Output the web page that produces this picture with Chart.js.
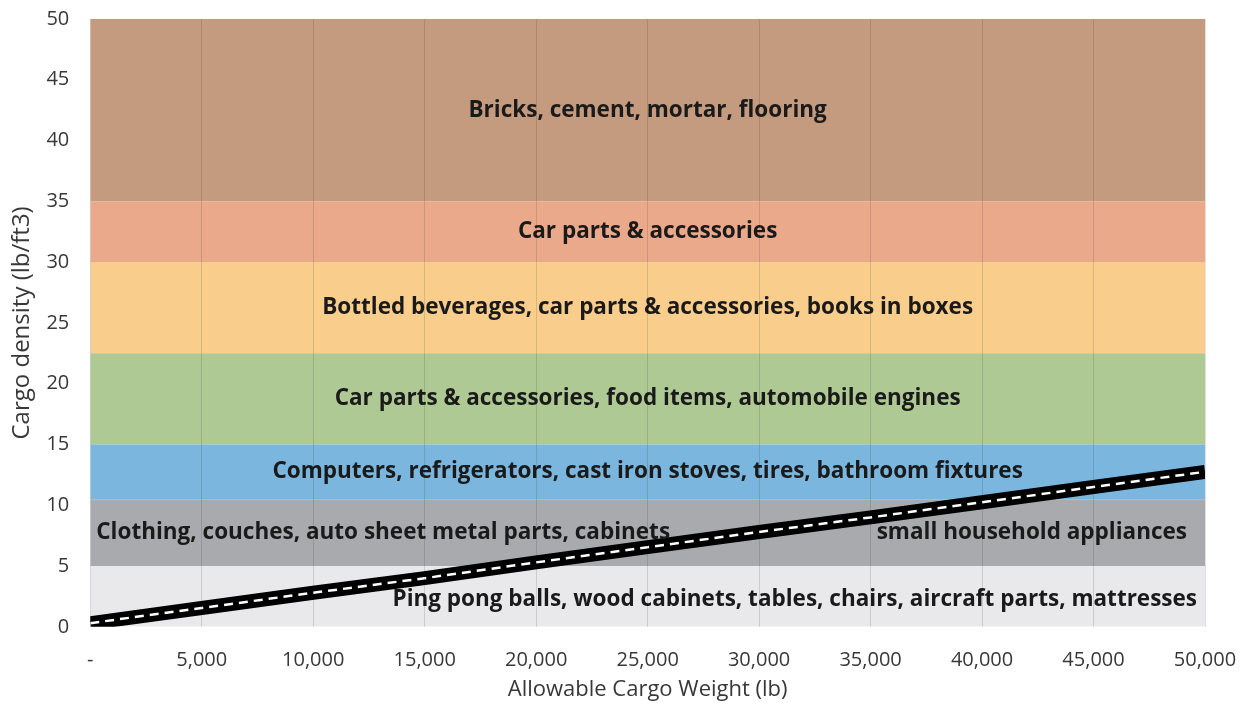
<!DOCTYPE html>
<html>
<head>
<meta charset="utf-8">
<script src="https://cdn.jsdelivr.net/npm/chart.js@4.4.1/dist/chart.umd.min.js"></script>
<style>
  html, body { margin: 0; padding: 0; background: #fff; }
  #wrap { width: 1240px; height: 703px; }
</style>
</head>
<body>
<div id="wrap"><canvas id="cargo-chart"></canvas></div>
<script>
// x axis: allowable cargo weight (lb)
var weights = [0, 5000, 10000, 15000, 20000, 25000, 30000, 35000, 40000, 45000, 50000];
// cargo density needed to reach the weight (lb/ft3)
var densities = [0.3, 1.55, 2.8, 4.0, 5.3, 6.55, 7.8, 9.0, 10.25, 11.5, 12.75];

// density bands, bottom to top
var bandLows  = [0, 5, 10.5, 15, 22.5, 30, 35];
var bandHighs = [5, 10.5, 15, 22.5, 30, 35, 50];
var bandColors = ["#e9e9eb", "#a9aaad", "#7ab6de", "#aec994", "#f9cd8b", "#eaa98b", "#c59b7f"];
var bandLabels = [
  ["Ping pong balls, wood cabinets, tables, chairs, aircraft parts, mattresses"],
  ["Clothing, couches, auto sheet metal parts, cabinets", "small household appliances"],
  ["Computers, refrigerators, cast iron stoves, tires, bathroom fixtures"],
  ["Car parts & accessories, food items, automobile engines"],
  ["Bottled beverages, car parts & accessories, books in boxes"],
  ["Car parts & accessories"],
  ["Bricks, cement, mortar, flooring"]
];

var xTicks = [0, 5000, 10000, 15000, 20000, 25000, 30000, 35000, 40000, 45000, 50000];
var yTicks = [0, 5, 10, 15, 20, 25, 30, 35, 40, 45, 50];

var FONT = "'Open Sans', Lato, sans-serif";

/*************************  datasets  *****************************/
var datasets = [];
for (var i = 0; i < bandLows.length; i++) {
  datasets.push({
    label: "band" + i,
    data: [{x: weights[0], y: bandHighs[i]}, {x: weights[weights.length - 1], y: bandHighs[i]}],
    borderWidth: 0,
    pointRadius: 0,
    backgroundColor: bandColors[i],
    fill: {value: bandLows[i]},
    order: 10
  });
}
var lineData = weights.map(function(w, k) { return {x: w, y: densities[k]}; });
// thick black road with a white dashed centre line
datasets.push({
  label: "limit",
  data: lineData,
  borderColor: "#000",
  borderWidth: 14,
  pointRadius: 0,
  fill: false,
  order: 2
});
datasets.push({
  label: "limit-dash",
  data: lineData,
  borderColor: "#fff",
  borderWidth: 2.5,
  borderDash: [9, 6],
  pointRadius: 0,
  fill: false,
  order: 1
});

/*************************  band labels  *****************************/
var bandText = {
  id: "bandText",
  afterDatasetsDraw: function(chart) {
    var ctx = chart.ctx, ys = chart.scales.y, area = chart.chartArea;
    ctx.save();
    ctx.font = "bold 22.5px " + FONT;
    ctx.fillStyle = "#1a1a1a";
    ctx.textBaseline = "middle";
    for (var i = 0; i < bandLabels.length; i++) {
      var y = ys.getPixelForValue((bandLows[i] + bandHighs[i]) / 2);
      var labels = bandLabels[i];
      if (labels.length === 2) {
        ctx.textAlign = "left";
        ctx.fillText(labels[0], area.left + 6, y);
        ctx.textAlign = "right";
        ctx.fillText(labels[1], area.right - 18, y);
      } else if (i === 0) {
        ctx.textAlign = "right";
        ctx.fillText(labels[0], area.right - 8, y + 3);
      } else {
        ctx.textAlign = "center";
        ctx.fillText(labels[0], (area.left + area.right) / 2, y);
      }
    }
    ctx.restore();
  }
};

var ctx = document.getElementById("cargo-chart").getContext("2d");
new Chart(ctx, {
  type: "line",
  data: { datasets: datasets },
  plugins: [bandText],
  options: {
    responsive: true,
    maintainAspectRatio: false,
    animation: false,
    layout: { padding: { top: 19, right: 35, left: 4, bottom: 1 } },
    plugins: { legend: { display: false }, tooltip: { enabled: false } },
    scales: {
      x: {
        type: "linear",
        min: 0, max: 50000,
        afterBuildTicks: function(axis) { axis.ticks = xTicks.map(function(v) { return {value: v}; }); },
        grid: { display: true, color: "rgba(0,0,0,0.12)", drawTicks: true, tickLength: 23, tickColor: "rgba(0,0,0,0)", z: 1 },
        border: { display: false },
        ticks: {
          padding: 0,
          color: "#383838",
          font: { family: FONT, size: 20, lineHeight: 1 },
          maxRotation: 0,
          callback: function(v) { return v === 0 ? "-" : v.toLocaleString("en-US"); }
        },
        title: {
          display: true,
          text: "Allowable Cargo Weight (lb)",
          color: "#383838",
          font: { family: FONT, size: 22, lineHeight: 1.1 },
          padding: { top: 8, bottom: 0 }
        }
      },
      y: {
        min: 0, max: 50,
        afterBuildTicks: function(axis) { axis.ticks = yTicks.map(function(v) { return {value: v}; }); },
        grid: { display: true, color: "rgba(0,0,0,0)", drawTicks: true, tickLength: 21, tickColor: "rgba(0,0,0,0)" },
        border: { display: false },
        ticks: {
          padding: 0,
          color: "#383838",
          font: { family: FONT, size: 20 }
        },
        title: {
          display: true,
          text: "Cargo density (lb/ft3)",
          color: "#383838",
          font: { family: FONT, size: 24, lineHeight: 1.1 },
          padding: { top: 5, bottom: 11 }
        }
      }
    }
  }
});
</script>
</body>
</html>
